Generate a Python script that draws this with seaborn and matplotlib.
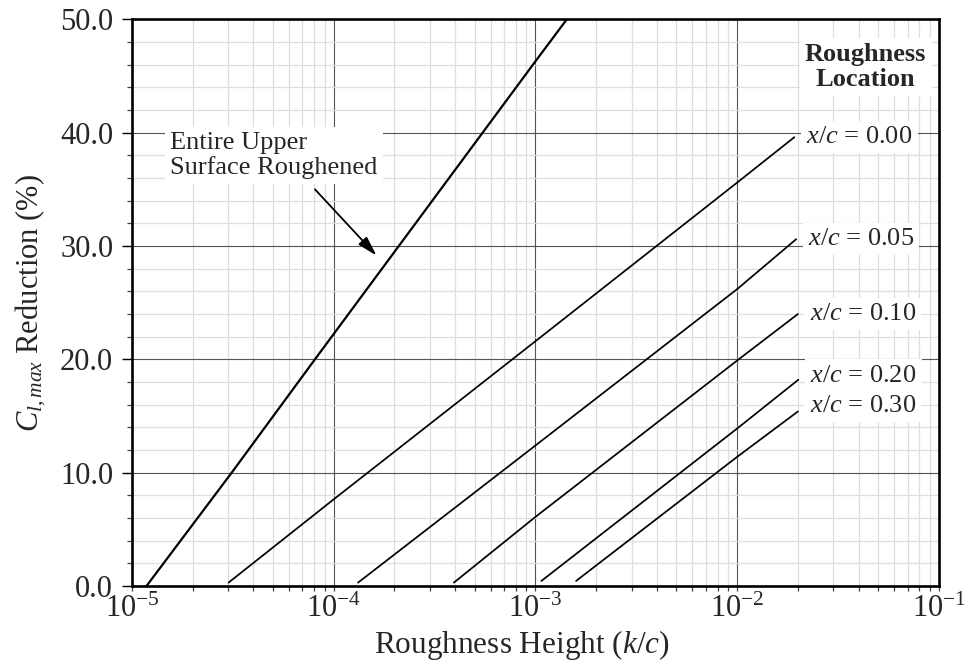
import numpy as np
import pandas as pd
import matplotlib
matplotlib.use("Agg")
import matplotlib.pyplot as plt
import seaborn as sns
from matplotlib.ticker import MultipleLocator, LogLocator, LogFormatterMathtext, FormatStrFormatter, NullFormatter

# ---------------- data ----------------
entire_x = [1.18e-5, 3.12e-5, 8.07e-5, 1.0e-3, 1.43e-3]
entire_y = [0.0, 10.0, 20.0, 46.3, 50.0]

xc00_x = [3.01e-5, 1.0e-4, 1.0e-3, 1.0e-2, 1.92e-2]
xc00_y = [0.3, 7.65, 21.6, 35.6, 39.6]

xc05_x = [1.32e-4, 1.0e-3, 1.0e-2, 1.96e-2]
xc05_y = [0.3, 12.4, 26.2, 30.6]

xc10_x = [3.94e-4, 1.0e-3, 1.0e-2, 2.0e-2]
xc10_y = [0.3, 6.1, 19.9, 24.0]

xc20_x = [1.07e-3, 1.0e-2, 2.01e-2]
xc20_y = [0.45, 13.9, 18.2]

xc30_x = [1.59e-3, 1.0e-2, 2.0e-2]
xc30_y = [0.45, 11.4, 15.4]

location_labels = ["0.00", "0.05", "0.10", "0.20", "0.30"]
y_ticks = [0, 10, 20, 30, 40, 50]

series = {
    "Entire": (entire_x, entire_y),
    "0.00": (xc00_x, xc00_y),
    "0.05": (xc05_x, xc05_y),
    "0.10": (xc10_x, xc10_y),
    "0.20": (xc20_x, xc20_y),
    "0.30": (xc30_x, xc30_y),
}
frames = []
for name, (xs, ys) in series.items():
    frames.append(pd.DataFrame({"series": name, "x": xs, "y": ys}))
df = pd.concat(frames, ignore_index=True)

# ---------------- style ----------------
sns.set_theme(style="white")
plt.rcParams["font.family"] = ["Liberation Serif", "DejaVu Serif"]
plt.rcParams["mathtext.fontset"] = "custom"
plt.rcParams["mathtext.rm"] = "Liberation Serif"
plt.rcParams["mathtext.it"] = "Liberation Serif:italic"
plt.rcParams["mathtext.bf"] = "Liberation Serif:bold"
plt.rcParams["axes.unicode_minus"] = False

fig = plt.figure(figsize=(9.67, 6.66), dpi=100)
ax = fig.add_axes([0.1365, 0.1201, 0.8345, 0.8509])

# lines
widths = {"Entire": 1.6}
for name in series:
    sub = df[df["series"] == name]
    sns.lineplot(data=sub, x="x", y="y", ax=ax, color="black",
                 linewidth=widths.get(name, 1.25), sort=False,
                 estimator=None, legend=False, zorder=4)

ax.set_xscale("log")
ax.set_xlim(1e-5, 1e-1)
ax.set_ylim(0, 50)

# ticks
ax.xaxis.set_major_locator(LogLocator(base=10, numticks=10))
ax.xaxis.set_minor_locator(LogLocator(base=10, subs=np.arange(2, 10), numticks=20))
ax.xaxis.set_major_formatter(LogFormatterMathtext())
ax.xaxis.set_minor_formatter(NullFormatter())
ax.set_yticks(y_ticks)
ax.yaxis.set_minor_locator(MultipleLocator(2))
ax.yaxis.set_major_formatter(FormatStrFormatter("%.1f"))

ax.tick_params(axis="y", which="major", direction="out", length=7, width=1,
               color="black", labelsize=22, pad=6.5, left=True)
ax.tick_params(axis="y", which="minor", direction="out", length=3.5, width=0.9,
               color="#444444", left=True)
ax.tick_params(axis="x", which="both", direction="out", length=3.5, width=0.9,
               color="#444444", bottom=True)
ax.tick_params(axis="x", which="major", labelsize=22, pad=3)

# grid
ax.grid(True, which="minor", color="#dedede", linewidth=0.9, zorder=0)
ax.grid(True, which="major", color="#555555", linewidth=0.8, zorder=1)
ax.set_axisbelow(True)

for sp in ax.spines.values():
    sp.set_visible(True)
    sp.set_color("black")
    sp.set_linewidth(1.9)

# labels
ax.set_xlabel(r"Roughness Height $\mathit{(k/c)}$", fontsize=22.5)
ax.xaxis.label.set_va("baseline")
ax.xaxis.set_label_coords(0.483, -0.118)
ax.set_ylabel(r"$C_{l,max}$ Reduction (%)", fontsize=22, labelpad=9)

box = dict(boxstyle="square,pad=0.2", facecolor="white", edgecolor="none")

# location labels at the end of each line
label_dy = [0, 0, 0, 3.0, 4.0]
for lab, dy in zip(location_labels, label_dy):
    xs, ys = series[lab]
    ax.annotate(r"$x/c$ = " + lab, xy=(xs[-1], ys[-1]), xytext=(8.5, dy),
                textcoords="offset points", ha="left", va="center",
                fontsize=19, bbox=box, zorder=5)

ax.text(4.33e-2, 45.8, "Roughness\nLocation", ha="center", va="center",
        fontsize=19, fontweight="bold", linespacing=1.1, bbox=box, zorder=5)

ax.text(1.543e-5, 38.0, "Entire Upper\nSurface Roughened", ha="left", va="center",
        fontsize=19, linespacing=1.08, bbox=box, zorder=5)
ax.annotate("", xy=(1.63e-4, 29.15), xytext=(8.07e-5, 35.0),
            arrowprops=dict(arrowstyle="-|>,head_length=0.6,head_width=0.17",
                            mutation_scale=20, color="black", lw=1.3,
                            shrinkA=0, shrinkB=0), zorder=6)

fig.savefig("out.png", dpi=100)
